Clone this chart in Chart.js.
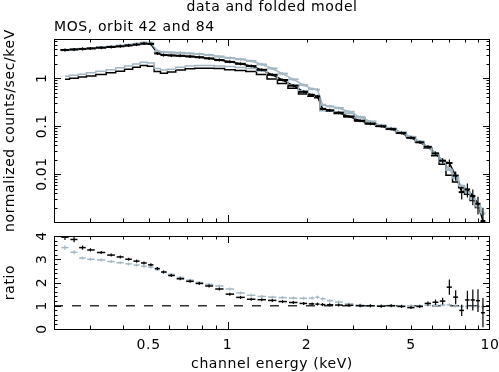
<!DOCTYPE html>
<html>
<head>
<meta charset="utf-8">
<script src="https://cdn.jsdelivr.net/npm/chart.js@4.4.1/dist/chart.umd.min.js"></script>
<style>
  body { margin: 0; background: #fff; }
  canvas { position: absolute; left: 0; }
</style>
</head>
<body>
<canvas id="specChart" width="499" height="232" style="top:0"></canvas>
<canvas id="ratioChart" width="499" height="140" style="top:232px"></canvas>
<script>
// channel energies (keV)
const energy = [0.24, 0.26, 0.28, 0.30, 0.33, 0.36, 0.39, 0.42, 0.45, 0.48,
    0.51, 0.54, 0.57, 0.61, 0.66, 0.72, 0.78, 0.85, 0.93, 1.02,
    1.12, 1.23, 1.35, 1.48, 1.62, 1.78, 1.95, 2.1, 2.2, 2.3,
    2.45, 2.65, 2.9, 3.2, 3.5, 3.85, 4.2, 4.6, 5.0, 5.4,
    5.8, 6.2, 6.6, 7.0, 7.4, 7.8, 8.2, 8.6, 9.0, 9.4];

// orbit 42 (black): data, folded model, ratio, relative error
const dataK = [3.9, 4.0, 4.1, 4.2, 4.35, 4.5, 4.65, 4.85, 5.05, 5.3,
    5.2, 3.3, 3.05, 3.0, 2.95, 2.85, 2.75, 2.6, 2.4, 2.2,
    2.0, 1.8, 1.5, 1.18, 0.92, 0.7, 0.52, 0.45, 0.42, 0.23,
    0.215, 0.19, 0.16, 0.13, 0.113, 0.1, 0.087, 0.072, 0.057, 0.046,
    0.037, 0.027, 0.019, 0.017, 0.0093, 0.0042, 0.0048, 0.0035, 0.0024, 0.00105];
const modelK = [0.95, 1.0, 1.06, 1.12, 1.2, 1.3, 1.4, 1.55, 1.7, 1.85,
    1.78, 1.38, 1.28, 1.35, 1.48, 1.58, 1.62, 1.62, 1.6, 1.5,
    1.45, 1.38, 1.2, 0.97, 0.78, 0.62, 0.47, 0.42, 0.39, 0.22,
    0.205, 0.185, 0.157, 0.13, 0.113, 0.1, 0.086, 0.072, 0.06, 0.047,
    0.035, 0.024, 0.016, 0.0095, 0.0068, 0.0052, 0.0038, 0.0028, 0.002, 0.0015];
const ratioK = [3.95, 3.85, 3.5, 3.4, 3.29, 3.18, 3.1, 3.0, 2.92, 2.84,
    2.76, 2.6, 2.45, 2.3, 2.16, 2.05, 1.96, 1.85, 1.72, 1.5,
    1.36, 1.28, 1.26, 1.23, 1.18, 1.14, 1.1, 1.08, 1.07, 1.05,
    1.04, 1.03, 1.02, 1.0, 1.0, 0.98, 1.0, 0.97, 0.92, 0.97,
    1.1, 1.15, 1.2, 1.8, 1.37, 0.8, 1.25, 1.25, 1.22, 0.7];
const errK = [0.03, 0.03, 0.025, 0.02, 0.02, 0.02, 0.02, 0.02, 0.02, 0.02,
    0.02, 0.02, 0.02, 0.02, 0.02, 0.02, 0.02, 0.02, 0.02, 0.02,
    0.02, 0.02, 0.02, 0.02, 0.02, 0.02, 0.025, 0.03, 0.03, 0.03,
    0.03, 0.03, 0.03, 0.03, 0.035, 0.04, 0.04, 0.05, 0.05, 0.06,
    0.08, 0.1, 0.12, 0.18, 0.22, 0.3, 0.32, 0.36, 0.4, 0.9];

// orbit 84 (grey)
const dataG = [3.85, 3.95, 4.05, 4.2, 4.4, 4.6, 4.8, 5.0, 5.25, 5.55,
    5.5, 3.7, 3.5, 3.45, 3.4, 3.3, 3.2, 3.05, 2.85, 2.65,
    2.5, 2.3, 1.95, 1.6, 1.25, 0.95, 0.72, 0.6, 0.58, 0.28,
    0.26, 0.24, 0.2, 0.155, 0.125, 0.104, 0.09, 0.075, 0.06, 0.048,
    0.037, 0.027, 0.019, 0.0125, 0.0082, 0.0056, 0.0041, 0.003, 0.0021, 0.0015];
const modelG = [1.1, 1.15, 1.22, 1.3, 1.4, 1.5, 1.65, 1.8, 1.98, 2.15,
    2.08, 1.6, 1.48, 1.55, 1.7, 1.8, 1.85, 1.85, 1.8, 1.75,
    1.68, 1.6, 1.42, 1.18, 0.93, 0.72, 0.55, 0.45, 0.42, 0.21,
    0.21, 0.2, 0.185, 0.15, 0.125, 0.104, 0.089, 0.075, 0.06, 0.048,
    0.036, 0.026, 0.018, 0.012, 0.0084, 0.0058, 0.0042, 0.0031, 0.0022, 0.0016];
const ratioG = [3.5, 3.3, 3.05, 3.0, 2.97, 2.9, 2.85, 2.8, 2.75, 2.7,
    2.66, 2.55, 2.45, 2.35, 2.22, 2.1, 2.0, 1.92, 1.85, 1.72,
    1.55, 1.45, 1.4, 1.37, 1.35, 1.33, 1.32, 1.33, 1.37, 1.3,
    1.22, 1.16, 1.08, 1.03, 1.0, 1.0, 1.01, 1.0, 1.0, 1.0,
    1.02, 1.02, 1.03, 1.04, 0.98, 0.97, 0.97, 0.97, 0.97, 0.96];
const errG = [0.03, 0.03, 0.02, 0.02, 0.02, 0.02, 0.02, 0.02, 0.02, 0.02,
    0.02, 0.02, 0.02, 0.02, 0.02, 0.02, 0.02, 0.02, 0.02, 0.02,
    0.02, 0.02, 0.02, 0.02, 0.02, 0.02, 0.02, 0.02, 0.025, 0.025,
    0.025, 0.025, 0.025, 0.025, 0.03, 0.03, 0.03, 0.03, 0.035, 0.035,
    0.04, 0.04, 0.05, 0.05, 0.06, 0.07, 0.08, 0.09, 0.1, 0.12];

// axes
const xMin = 0.218, xMax = 10;
const xLabels = [0.5, 1, 2, 5, 10];
const specMin = 0.001, specMax = 6.6;
const specLabels = [0.01, 0.1, 1];
const ratioMin = 0, ratioMax = 4;
const ratioLabels = [0, 1, 2, 3, 4];
const unityRatio = 1;

const BLACK = '#000000';
const GREY = '#a3b7c3';
const FONT = '14px "DejaVu Sans", sans-serif';

function pts(ys) {
    return energy.map((e, i) => ({ x: e, y: ys[i] }));
}

function logTicks(lo, hi) {
    const major = [], minor = [];
    for (let d = Math.floor(Math.log10(lo)); d <= Math.ceil(Math.log10(hi)); d++) {
        const base = Math.pow(10, d);
        major.push(base);
        for (let k = 2; k <= 9; k++) minor.push(k * base);
    }
    return { major, minor };
}

// crosses: horizontal bar = part of the channel width, vertical = error
const crossPlugin = {
    id: 'crosses',
    afterDatasetsDraw(chart, args, opts) {
        const ctx = chart.ctx, a = chart.chartArea;
        const xs = chart.scales.x, ys = chart.scales.y;
        ctx.save();
        ctx.beginPath();
        ctx.rect(a.left, a.top, a.right - a.left, a.bottom - a.top);
        ctx.clip();
        chart.data.datasets.forEach(ds => {
            if (!ds.errRel) return;
            ctx.strokeStyle = ds.borderColor;
            const px = ds.data.map(p => xs.getPixelForValue(p.x));
            ds.data.forEach((p, i) => {
                const x = px[i], y = ys.getPixelForValue(p.y);
                const dl = i > 0 ? x - px[i - 1] : px[i + 1] - x;
                const dr = i < px.length - 1 ? px[i + 1] - x : x - px[i - 1];
                const lo = p.y * (1 - ds.errRel[i]);
                const hi = p.y * (1 + ds.errRel[i]);
                let yLo = lo > 0 ? ys.getPixelForValue(lo) : a.bottom + 5;
                let yHi = ys.getPixelForValue(hi);
                yLo = Math.max(yLo, y + 1.5);
                yHi = Math.min(yHi, y - 1.5);
                ctx.lineWidth = opts.hWidth;
                ctx.beginPath();
                ctx.moveTo(x - dl * opts.frac, y);
                ctx.lineTo(x + dr * opts.frac, y);
                ctx.stroke();
                ctx.lineWidth = 1.2;
                ctx.beginPath();
                ctx.moveTo(x, yLo);
                ctx.lineTo(x, yHi);
                ctx.stroke();
            });
        });
        ctx.restore();
    }
};

// PGPLOT style box: inward ticks on all four sides plus labels
const framePlugin = {
    id: 'frame',
    afterDraw(chart, args, o) {
        const ctx = chart.ctx, a = chart.chartArea;
        const xs = chart.scales.x, ys = chart.scales.y;
        ctx.save();
        ctx.strokeStyle = '#000';
        ctx.lineWidth = 1;
        ctx.strokeRect(a.left + 0.5, a.top + 0.5, a.right - a.left - 1, a.bottom - a.top);

        const xt = logTicks(xMin, xMax);
        const tickX = (vals, len) => vals.forEach(v => {
            const x = Math.round(xs.getPixelForValue(v)) + 0.5;
            if (x < a.left + 1 || x > a.right - 1) return;
            ctx.beginPath();
            ctx.moveTo(x, a.bottom); ctx.lineTo(x, a.bottom - len);
            ctx.moveTo(x, a.top); ctx.lineTo(x, a.top + len);
            ctx.stroke();
        });
        tickX(xt.major, 7);
        tickX(xt.minor, 3.5);

        const tickY = (vals, len) => vals.forEach(v => {
            const y = Math.round(ys.getPixelForValue(v)) + 0.5;
            if (y < a.top + 1 || y > a.bottom - 1) return;
            ctx.beginPath();
            ctx.moveTo(a.left, y); ctx.lineTo(a.left + len, y);
            ctx.moveTo(a.right, y); ctx.lineTo(a.right - len, y);
            ctx.stroke();
        });
        tickY(o.yMajor, 7);
        tickY(o.yMinor, 3.5);

        ctx.fillStyle = '#000';
        ctx.font = FONT;
        ctx.letterSpacing = '0.6px';
        // y tick labels, rotated
        o.yLabels.forEach(v => {
            ctx.save();
            ctx.translate(46, ys.getPixelForValue(v));
            ctx.rotate(-Math.PI / 2);
            ctx.textAlign = 'center';
            ctx.textBaseline = 'alphabetic';
            ctx.fillText(String(v), 0, 0);
            ctx.restore();
        });
        // y axis title
        ctx.save();
        ctx.translate(10, (a.top + a.bottom) / 2);
        ctx.rotate(-Math.PI / 2);
        ctx.textAlign = 'center';
        ctx.textBaseline = 'middle';
        ctx.fillText(o.yTitle, 0, 0);
        ctx.restore();

        if (o.title) {
            ctx.textAlign = 'center';
            ctx.textBaseline = 'middle';
            ctx.fillText(o.title, (a.left + a.right) / 2, 7);
            ctx.textAlign = 'left';
            ctx.fillText(o.subtitle, a.left, 27);
        }
        if (o.xTitle) {
            ctx.textAlign = 'center';
            ctx.textBaseline = 'middle';
            xLabels.forEach(v => ctx.fillText(String(v), xs.getPixelForValue(v), a.bottom + 16));
            ctx.fillText(o.xTitle, (a.left + a.right) / 2, a.bottom + 35);
        }
        ctx.restore();
    }
};

function modelSet(ys, color) {
    return { type: 'line', data: pts(ys), borderColor: color, borderWidth: 1.5,
        stepped: 'middle', pointRadius: 0, fill: false };
}

function dataSet(ys, errs, color, joined) {
    return { type: 'line', data: pts(ys), errRel: errs, borderColor: color,
        borderWidth: joined ? 1.5 : 0, showLine: joined, pointRadius: 0, fill: false };
}

const specTicks = logTicks(specMin, specMax);

new Chart(document.getElementById('specChart'), {
    type: 'line',
    data: {
        datasets: [
            modelSet(modelG, GREY),
            modelSet(modelK, BLACK),
            dataSet(dataG, errG, GREY, true),
            dataSet(dataK, errK, BLACK, true)
        ]
    },
    options: {
        responsive: false,
        animation: false,
        layout: { padding: { left: 54, right: 9, top: 39, bottom: 10 } },
        scales: {
            x: { type: 'logarithmic', min: xMin, max: xMax, display: false },
            y: { type: 'logarithmic', min: specMin, max: specMax, display: false }
        },
        plugins: {
            legend: { display: false },
            tooltip: { enabled: false },
            crosses: { frac: 0.5, hWidth: 2 },
            frame: {
                yMajor: specTicks.major, yMinor: specTicks.minor, yLabels: specLabels,
                yTitle: 'normalized counts/sec/keV',
                title: 'data and folded model',
                subtitle: 'MOS, orbit 42 and 84'
            }
        }
    },
    plugins: [crossPlugin, framePlugin]
});

const ratioMinor = [];
for (let v = ratioMin; v <= ratioMax + 1e-9; v += 0.2) ratioMinor.push(+v.toFixed(1));

new Chart(document.getElementById('ratioChart'), {
    type: 'line',
    data: {
        datasets: [
            dataSet(ratioG, errG, GREY, false),
            dataSet(ratioK, errK, BLACK, false),
            { type: 'line', data: [{ x: xMin, y: unityRatio }, { x: xMax, y: unityRatio }],
              borderColor: '#333', borderWidth: 1.5, borderDash: [9, 9], pointRadius: 0 }
        ]
    },
    options: {
        responsive: false,
        animation: false,
        layout: { padding: { left: 54, right: 9, top: 4, bottom: 43 } },
        scales: {
            x: { type: 'logarithmic', min: xMin, max: xMax, display: false },
            y: { type: 'linear', min: ratioMin, max: ratioMax, display: false }
        },
        plugins: {
            legend: { display: false },
            tooltip: { enabled: false },
            crosses: { frac: 0.4, hWidth: 1.5 },
            frame: {
                yMajor: ratioLabels, yMinor: ratioMinor, yLabels: ratioLabels,
                yTitle: 'ratio',
                xTitle: 'channel energy (keV)'
            }
        }
    },
    plugins: [crossPlugin, framePlugin]
});
</script>
</body>
</html>
